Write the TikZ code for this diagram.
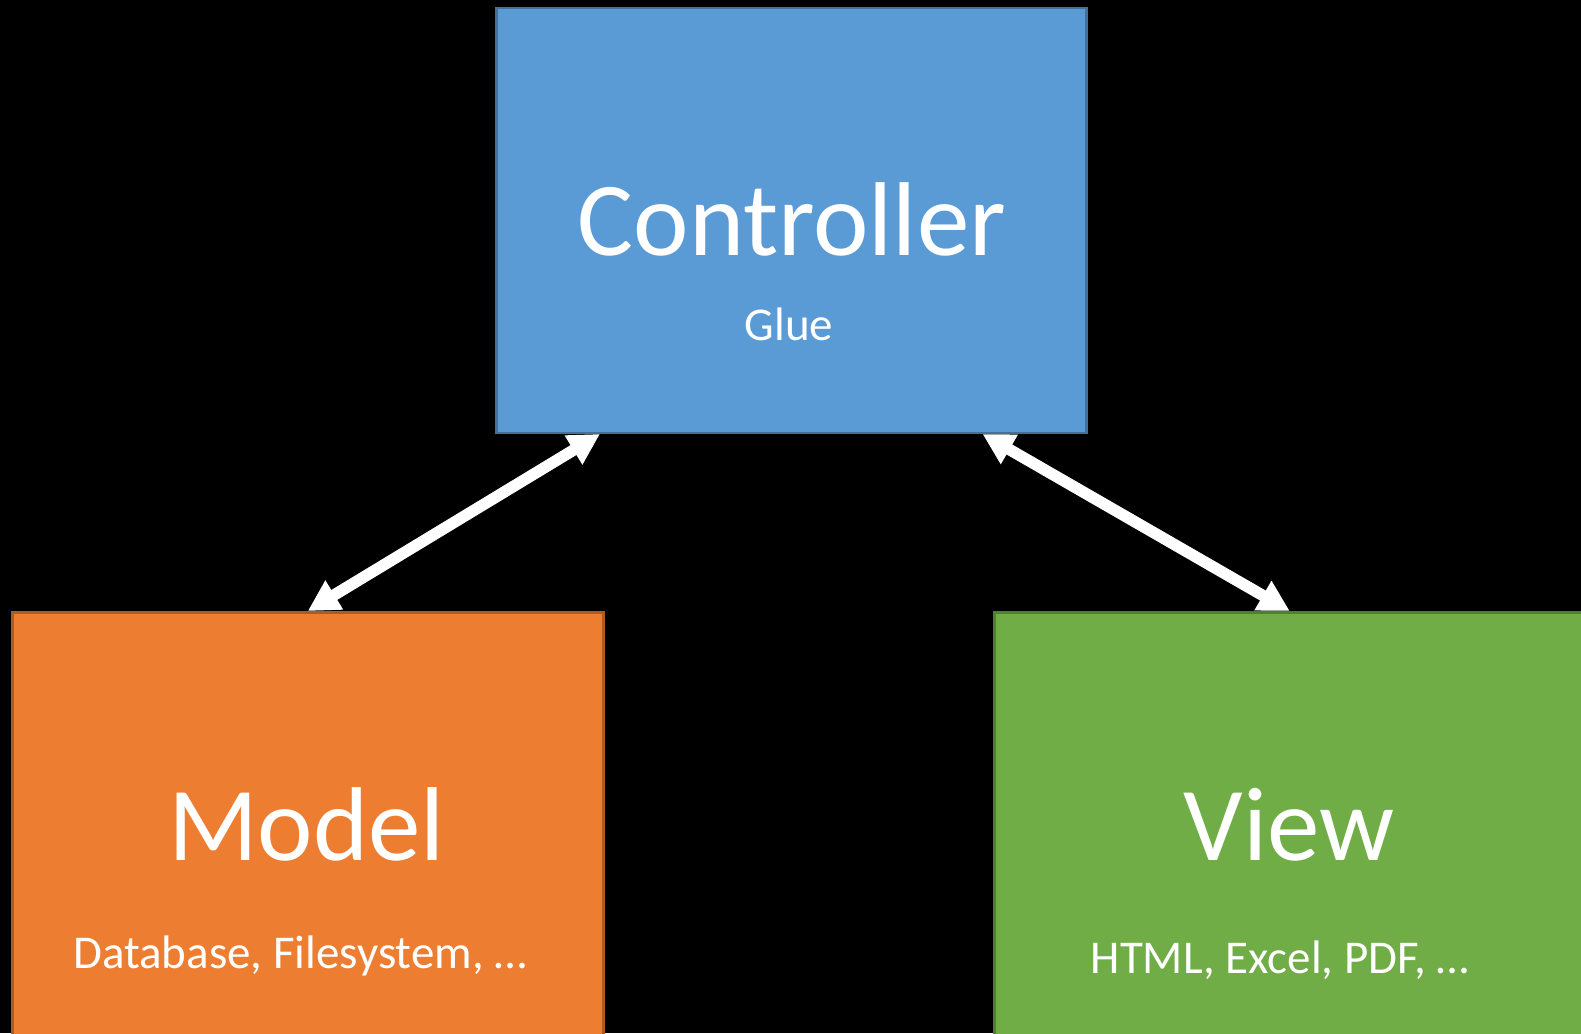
\documentclass[tikz,border=0pt]{standalone}
\usepackage{fontspec}
\setmainfont{Carlito}
\usetikzlibrary{arrows.meta}
\definecolor{ctrlfill}{HTML}{5B9BD5}
\definecolor{ctrlline}{HTML}{41719C}
\definecolor{modelfill}{HTML}{ED7D31}
\definecolor{modelline}{HTML}{AE5A21}
\definecolor{viewfill}{HTML}{70AD47}
\definecolor{viewline}{HTML}{507E32}
\tikzset{
  box/.style={draw, line width=2.5pt, inner sep=0pt, anchor=north west},
  title/.style={text=white, anchor=base, inner sep=0pt, font=\fontsize{105}{126}\selectfont},
  subtitle/.style={text=white, anchor=base, inner sep=0pt, font=\fontsize{47}{56}\selectfont},
  link/.style={draw=white, line width=11.5pt, line cap=butt,
    arrows={Triangle[length=31pt 0 0, width=32pt 0 0]-Triangle[length=31pt 0 0, width=32pt 0 0]}}
}
\begin{document}
\begin{tikzpicture}[x=1pt, y=-1pt]
  \useasboundingbox (0,0) rectangle (1581,1033);
  \clip (0,0) rectangle (1581,1033);
  \fill[black] (0,0) rectangle (1581,1033);

  % the three components
  \node[box, fill=ctrlfill, draw=ctrlline, minimum width=590pt, minimum height=424.5pt] (ctrl) at (495,7) {};
  \node[box, fill=modelfill, draw=modelline, minimum width=591pt, minimum height=440pt] (model) at (11,611) {};
  \node[box, fill=viewfill, draw=viewline, minimum width=591pt, minimum height=440pt] (view) at (993,611) {};

  % labels
  \node[title] (ctrlname) at (792,255) {Controller};
  \node[subtitle] (ctrlnote) at (789,340) {Glue};
  \node[title] (modelname) at (306.5,860) {Model};
  \node[subtitle] (modelnote) at (300,968) {Database, Filesystem, …};
  \node[title] (viewname) at (1289,860) {View};
  \node[subtitle] (viewnote) at (1280,973) {HTML, Excel, PDF, …};

  % two-way links between the controller and the other parts
  \draw[link] (model.north) -- ([xshift=105pt]ctrl.south west);
  \draw[link] ([xshift=-105pt]ctrl.south east) -- (view.north);
\end{tikzpicture}
\end{document}
